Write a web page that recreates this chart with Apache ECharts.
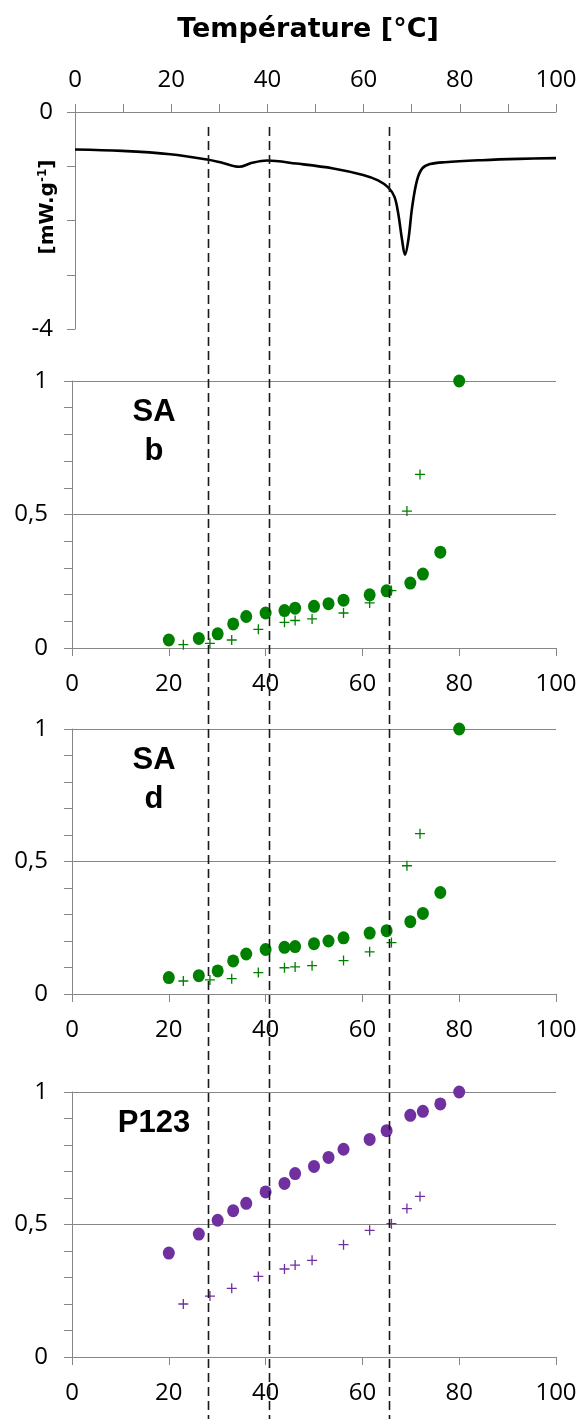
<!DOCTYPE html>
<html><head><meta charset="utf-8">
<script src="https://cdn.jsdelivr.net/npm/echarts@6/dist/echarts.min.js"></script>
<style>html,body{margin:0;padding:0;background:#fff}#c{width:581px;height:1419px}</style>
</head><body><div id="c"></div>
<script>
// DSC thermogram (temperature °C, heat flow mW/g)
const dscT = [0, 9.8, 19.8, 27.5, 30.6, 34.1, 36.8, 39.9, 46, 53.7, 59.9, 63, 65.1, 66.4, 67.2, 68, 68.6, 69.3, 70.1, 71.1, 72.2, 73.8, 76.9, 84.6, 92.3, 100];
const dscQ = [-0.69, -0.717, -0.778, -0.876, -0.937, -1.01, -0.937, -0.894, -0.95, -1.04, -1.16, -1.26, -1.39, -1.56, -1.87, -2.36, -2.63, -2.36, -1.75, -1.26, -1.04, -0.96, -0.925, -0.888, -0.864, -0.85];

// temperatures of the two marker series
const tCircle = [20, 26.2, 30.1, 33.3, 36.0, 40.0, 43.9, 46.1, 50.0, 53.0, 56.1, 61.5, 65.0, 69.9, 72.5, 76.1, 80.0];
const tCross = [23.0, 28.5, 33.0, 38.5, 43.9, 46.1, 49.6, 56.1, 61.5, 66.0, 69.2, 71.9];

const saB_circle = [0.030, 0.036, 0.053, 0.090, 0.118, 0.131, 0.140, 0.149, 0.156, 0.166, 0.179, 0.199, 0.214, 0.243, 0.277, 0.359, 1.0];
const saB_cross = [0.0125, 0.0175, 0.030, 0.070, 0.096, 0.103, 0.109, 0.131, 0.169, 0.215, 0.513, 0.650];

const saD_circle = [0.062, 0.069, 0.087, 0.125, 0.151, 0.168, 0.176, 0.179, 0.190, 0.200, 0.212, 0.230, 0.239, 0.273, 0.304, 0.383, 1.0];
const saD_cross = [0.049, 0.053, 0.058, 0.081, 0.099, 0.102, 0.107, 0.126, 0.159, 0.194, 0.484, 0.605];

const p123_circle = [0.392, 0.464, 0.516, 0.552, 0.580, 0.623, 0.655, 0.692, 0.719, 0.753, 0.784, 0.821, 0.854, 0.912, 0.927, 0.955, 1.0];
const p123_cross = [0.200, 0.230, 0.259, 0.304, 0.332, 0.347, 0.365, 0.424, 0.478, 0.503, 0.560, 0.606];

const dashedTemps = [28.0, 40.6, 65.4];
const panelLabels = ['SA\nb', 'SA\nd', 'P123'];
const xTitle = 'Température [°C]';

const GREEN = '#008000', PURPLE = '#7030A0', GRAY = '#868686';
const FONT = '"Open Sans", sans-serif';
const CIRCLE = 'path://M0,6.5a6,6.5 0 1,0 12,0a6,6.5 0 1,0 -12,0z';
const PLUS = 'path://M4.35,0h1.3v10h-1.3zM0,4.35h10v1.3h-10z';

const pair = (xs, ys) => xs.map((x, i) => [x, ys[i]]);

const chart = echarts.init(document.getElementById('c'), null, {renderer: 'canvas'});

const grids = [
  {left: 75, right: 25, top: 112, height: 217},
  {left: 72, right: 25, top: 381, height: 267},
  {left: 72, right: 25, top: 729, height: 265},
  {left: 72, right: 25, top: 1092, height: 265}
];

const labelStyle = {color: '#000', fontFamily: FONT, fontSize: 24};
const axLine = {show: true, lineStyle: {color: GRAY, width: 1}};

const xAxes = [
  {gridIndex: 0, type: 'value', position: 'top', min: 0, max: 100, interval: 10,
   axisLine: axLine, axisTick: {show: true, length: 8, lineStyle: {color: GRAY}},
   axisLabel: Object.assign({margin: 20, formatter: v => (v % 20 === 0 ? String(v) : ''), showMaxLabel: true, showMinLabel: true}, labelStyle),
   splitLine: {show: false}}
];
for (let i = 1; i <= 3; i++) {
  xAxes.push({gridIndex: i, type: 'value', min: 0, max: 100, interval: 20,
    axisLine: Object.assign({onZero: false}, axLine), axisTick: {show: true, length: 8, lineStyle: {color: GRAY}},
    axisLabel: Object.assign({margin: 24, showMaxLabel: true, showMinLabel: true}, labelStyle),
    splitLine: {show: false}});
}
const yAxes = [
  {gridIndex: 0, type: 'value', min: -4, max: 0, interval: 1,
   axisLine: axLine, axisTick: {show: true, length: 8, lineStyle: {color: GRAY}},
   axisLabel: Object.assign({margin: 22, formatter: v => (v === 0 || v === -4 ? String(v) : ''), showMaxLabel: true, showMinLabel: true}, labelStyle),
   splitLine: {show: false}}
];
for (let i = 1; i <= 3; i++) {
  yAxes.push({gridIndex: i, type: 'value', min: 0, max: 1, interval: 0.5,
    axisLine: axLine, axisTick: {show: true, length: 8, lineStyle: {color: GRAY}},
    minorTick: {show: true, splitNumber: 5, length: 8, lineStyle: {color: GRAY}},
    axisLabel: Object.assign({margin: 24, formatter: v => (v === 0.5 ? '0,5' : String(v)), showMaxLabel: true, showMinLabel: true}, labelStyle),
    splitLine: {show: true, lineStyle: {color: GRAY, width: 1}}});
}

function scatter(idx, xs, ys, symbol, size, color) {
  return {type: 'scatter', xAxisIndex: idx, yAxisIndex: idx, data: pair(xs, ys), symbol: symbol, symbolSize: size,
    itemStyle: {color: color, opacity: 1}, z: 5, silent: true, clip: false};
}

const series = [
  {type: 'line', xAxisIndex: 0, yAxisIndex: 0, data: pair(dscT, dscQ), smooth: 0.35, showSymbol: false,
   lineStyle: {color: '#000', width: 2.6}, silent: true, z: 5},
  scatter(1, tCircle, saB_circle, CIRCLE, [12, 13], GREEN),
  scatter(1, tCross, saB_cross, PLUS, [10, 10], GREEN),
  scatter(2, tCircle, saD_circle, CIRCLE, [12, 13], GREEN),
  scatter(2, tCross, saD_cross, PLUS, [10, 10], GREEN),
  scatter(3, tCircle, p123_circle, CIRCLE, [12, 13], PURPLE),
  scatter(3, tCross, p123_cross, PLUS, [10, 10], PURPLE)
];

chart.setOption({
  animation: false,
  backgroundColor: '#fff',
  grid: grids,
  xAxis: xAxes,
  yAxis: yAxes,
  series: series
});

// dashed vertical guides spanning all panels, positioned via the panel scale
const graphics = [];
dashedTemps.forEach(t => {
  const px = Math.round(chart.convertToPixel({xAxisIndex: 1}, t)) + 0.5;
  graphics.push({type: 'line', shape: {x1: px, y1: 127, x2: px, y2: 1419}, z: 10,
    style: {stroke: '#1a1a1a', lineWidth: 1.6, lineDash: [9, 5]}});
});
// title
graphics.push({type: 'text', x: 308, y: 30, z: 20,
  style: {text: xTitle, fill: '#000', font: 'bold 27px "DejaVu Sans", sans-serif', textAlign: 'center', textVerticalAlign: 'middle'}});
// y axis name of the DSC panel
graphics.push({type: 'text', x: 48, y: 207, rotation: Math.PI / 2, z: 20,
  style: {text: '{b|[mW.g}{s|-1}{b|]}', textAlign: 'center', textVerticalAlign: 'middle',
    rich: {b: {font: 'bold 20px "DejaVu Sans", sans-serif', fill: '#000'},
           s: {font: 'bold 12px "DejaVu Sans", sans-serif', fill: '#000', verticalAlign: 'top', padding: [0, 0, 10, 0]}}}});
// panel labels
const labelTops = [393, 741, 1104];
panelLabels.forEach((txt, i) => {
  graphics.push({type: 'text', x: 154, y: labelTops[i], z: 20,
    style: {text: txt, fill: '#000', font: 'bold 31px "Liberation Sans", Arial, sans-serif', textAlign: 'center', textVerticalAlign: 'top', lineHeight: 39}});
});
chart.setOption({graphic: graphics});
</script>
</body></html>
